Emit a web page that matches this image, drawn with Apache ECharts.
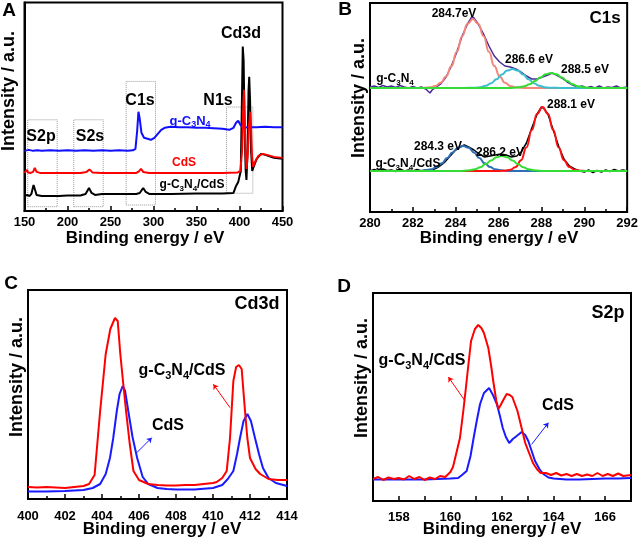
<!DOCTYPE html>
<html><head><meta charset="utf-8">
<script src="https://cdn.jsdelivr.net/npm/echarts@6/dist/echarts.min.js"></script>
<style>html,body{margin:0;padding:0;background:#fff}#c{width:641px;height:542px}</style>
</head><body><div id="c"></div>
<script>
// ---------- Panel A: survey ----------
const A_gcn = [[150,60],[155,61],[160,60],[165,60.5],[170,60],[180,60.5],[190,60],[200,60.5],[210,60],[220,60.5],[230,60],[240,60.5],[250,60],[260,60.5],[270,60],[276,60.5],[279,62],[281,80],[282.5,99],[284,92],[286,78],[289,73],[293,72],[297,71],[301,73],[305,77],[309,81],[313,83],[320,84],[330,83.5],[340,83.5],[350,83],[360,83],[370,82.5],[380,82],[388,81],[393,83],[396,88],[398.5,90],[401,86],[404,83],[410,83.5],[420,83.5],[430,84],[440,83.5],[450,83.5]];
const A_cds = [[150,38],[152,38.5],[153,41],[154,38.5],[157,38],[160,39],[162,43],[164,39],[168,38],[180,38],[200,38],[215,38],[222,39],[225.5,41.5],[229,38.5],[240,38],[260,38],[280,38],[283,39.5],[285.5,42],[288,39],[295,38],[320,38],[350,38],[380,38],[398,38.5],[401,40],[403,60],[404.3,100],[405.2,121],[406,90],[407,60],[408.2,42],[409.5,55],[411,85],[412.5,99],[413.5,80],[414.5,55],[415.8,44],[418,49],[422,55],[427,57],[432,56],[440,54],[450,53]];
const A_comp = [[150,15],[153,16],[156,15],[158,17],[160.5,26],[162,22],[164,16],[170,15],[190,15],[200,15.5],[215,15.5],[221,17],[225,23],[228,18],[232,16],[240,17],[260,17],[280,17],[284,18],[288,23],[291,19],[295,17],[320,17],[350,17.5],[380,17.5],[393,18],[396,25],[398.5,29],[400,28],[401.5,40],[402.8,110],[403.8,164],[404.8,150],[406,80],[407.2,40],[408.1,31],[409.3,60],[410.5,120],[411.3,134],[412.3,110],[413.5,60],[414.8,40],[416,43],[420,52],[425,57],[430,56],[440,53],[450,52]];
const A_boxes = [[153.8,4.3,188,91],[207.3,4.3,241.5,91],[268.2,6,302.3,129.3],[384.9,17.7,415.5,103.7]];

// ---------- Panel B: C1s ----------
const B_gcnData = [[280,125],[280.2,126],[280.4,124.5],[280.6,126.5],[280.8,125],[281,126],[281.2,124.5],[281.4,126.5],[281.6,125],[281.8,124],[282,125.5],[282.2,124],[282.4,125],[282.6,123],[282.8,119],[282.9,122],[283.1,125],[283.3,128],[283.55,135],[283.8,146],[284.05,160],[284.3,176],[284.55,188],[284.75,195],[284.85,194],[285.05,188],[285.3,178],[285.55,166],[285.8,156],[286.05,150],[286.3,146],[286.55,145],[286.8,143],[287.05,140],[287.3,136],[287.55,133],[287.8,133],[288.05,135],[288.3,137],[288.5,139],[288.7,137],[288.95,134],[289.2,130],[289.45,127],[289.7,125],[289.9,126],[290.1,124],[290.3,125.5],[290.5,124],[290.7,126],[290.9,124],[291.1,125],[291.3,124.5],[291.5,126],[291.7,124],[292,125]];
const B_gcnFit1 = [[280,124],[282.3,124],[282.8,124.7],[283.05,126],[283.3,129.2],[283.55,135.5],[283.8,145.9],[284.05,160.2],[284.3,175.8],[284.55,188.2],[284.8,193],[285.05,188.2],[285.3,175.8],[285.55,160.2],[285.8,145.9],[286.05,135.5],[286.3,129.2],[286.55,126],[286.8,124.7],[287.3,124],[292,124]];
const B_gcnFit2 = [[280,124],[284.4,124],[284.9,124.3],[285.15,124.8],[285.4,126.2],[285.65,128.7],[285.9,132.7],[286.15,137.4],[286.4,141.4],[286.65,143],[286.9,141.4],[287.15,137.4],[287.4,132.7],[287.65,128.7],[287.9,126.2],[288.15,124.8],[288.4,124.3],[288.9,124],[292,124]];
const B_gcnFit3 = [[280,124],[286.45,124],[286.95,124.7],[287.2,125.7],[287.45,127.7],[287.7,130.9],[287.95,134.6],[288.2,137.8],[288.45,139],[288.7,137.8],[288.95,134.6],[289.2,130.9],[289.45,127.7],[289.7,125.7],[289.95,124.7],[290.45,124],[292,124]];
const B_compData = [[280,41],[280.2,42.5],[280.4,41],[280.6,43],[280.8,41.5],[281,42],[281.2,40.5],[281.4,43],[281.6,41],[281.8,42],[282,41],[282.2,42.5],[282.4,41],[282.6,42],[282.8,41.5],[283,43],[283.2,45],[283.45,49],[283.7,55],[283.95,61],[284.2,65],[284.4,67],[284.6,65],[284.85,62],[285.1,58],[285.35,55],[285.6,56],[285.85,57],[286.1,58],[286.35,57],[286.6,55],[286.85,56],[287.05,60],[287.3,69],[287.55,84],[287.8,98],[288,105],[288.1,104],[288.3,98],[288.55,82],[288.8,66],[289.05,53],[289.3,46],[289.55,43],[289.8,41],[290,40],[290.2,42],[290.4,39.5],[290.6,41.5],[290.8,40],[291,42],[291.2,40.5],[291.4,42.5],[291.6,41],[291.8,42],[292,41]];
const B_compFit1 = [[280,41],[282.1,41],[282.35,41.2],[282.6,41.7],[282.85,42.75],[283.1,44.9],[283.35,48.7],[283.6,53.9],[283.85,59.6],[284.1,64.2],[284.35,66],[284.6,64.2],[284.85,59.6],[285.1,53.9],[285.35,48.7],[285.6,44.9],[285.85,42.75],[286.1,41.7],[286.35,41.2],[286.6,41],[292,41]];
const B_compFit2 = [[280,41],[284.15,41],[284.65,41.7],[284.9,42.7],[285.15,44.7],[285.4,47.9],[285.65,51.6],[285.9,54.8],[286.15,56],[286.4,54.8],[286.65,51.6],[286.9,47.9],[287.15,44.7],[287.4,42.7],[287.65,41.7],[288.15,41],[292,41]];
const B_compFit3 = [[280,41],[286.05,41],[286.3,41.3],[286.55,42.2],[286.8,45],[287.05,51.8],[287.3,64.6],[287.55,82],[287.8,98.3],[288.05,105],[288.3,98.3],[288.55,82],[288.8,64.6],[289.05,51.8],[289.3,45],[289.55,42.2],[289.8,41.3],[290.05,41],[292,41]];

// ---------- Panel C: Cd3d ----------
const C_comp = [[400,12],[400.5,11.5],[401,12],[401.5,11.5],[402,11],[402.5,12],[403,13],[403.3,15],[403.6,24],[403.9,88],[404.2,145],[404.45,170],[404.7,181],[404.85,178],[404.99,145],[405.15,115],[405.3,88],[405.5,55],[405.7,28],[406,19],[406.5,15],[407,14],[407.5,13.5],[408,13.5],[408.5,14],[409,14],[409.5,15],[410,16],[410.2,17],[410.5,21],[410.74,28],[410.92,61],[411.1,118],[411.25,132],[411.4,134],[411.55,130],[411.73,88],[411.85,62],[412,41],[412.3,30],[412.55,25],[413,20],[413.5,19],[414,19]];
const C_cds = [[400,7.5],[401,7.5],[402,8],[403,9],[403.5,11],[403.9,15],[404.2,25],[404.43,41],[404.6,60],[404.8,88],[404.95,105],[405.12,113],[405.25,108],[405.42,88],[405.65,62],[405.9,41],[406.2,22],[406.5,15],[407,11],[407.5,10],[408,9.5],[409,9.5],[410,11],[410.5,14],[410.8,20],[411.1,28],[411.3,45],[411.46,61],[411.65,78],[411.86,85],[412.05,78],[412.27,61],[412.5,44],[412.7,31],[413,21],[413.4,16],[414,13]];
const C_arrowComp = [[410.92,91.3],[410.02,114.7]];
const C_arrowCds = [[405.88,46.3],[406.69,61.3]];

// ---------- Panel D: S2p ----------
const D_comp = [[157,22],[157.2,24],[157.4,21],[157.6,23.5],[157.8,22],[158,23],[158.2,21.5],[158.4,25],[158.6,22],[158.8,24],[159,21],[159.2,23.5],[159.4,22],[159.6,25],[159.8,24],[160,29],[160.1,34],[160.25,50],[160.37,63],[160.5,90],[160.6,113],[160.7,137],[160.8,160],[160.95,172],[161.08,176],[161.2,173],[161.3,168],[161.47,153],[161.58,135],[161.66,120],[161.78,100],[161.86,92],[161.95,96],[162.05,101],[162.18,107],[162.3,106],[162.4,104],[162.5,97],[162.6,90],[162.76,73],[162.9,58],[163.02,50],[163.2,38],[163.35,32],[163.5,28],[163.7,28],[163.9,26],[164.1,28],[164.3,25.5],[164.5,27],[164.7,25],[164.9,27],[165.1,25],[165.3,26.5],[165.5,25],[165.7,28],[165.9,25],[166.1,27],[166.3,25],[166.5,27.5],[166.7,25],[167,26]];
const D_cds = [[157,21.5],[158,21.5],[159,21.5],[159.5,22],[160,22.5],[160.3,23],[160.45,26],[160.63,30],[160.78,45],[160.9,63],[161.02,80],[161.15,97],[161.3,108],[161.5,113],[161.65,106],[161.8,97],[161.92,85],[162.03,73],[162.15,64],[162.28,58],[162.42,62],[162.57,65],[162.76,69],[162.9,66],[163.02,60],[163.15,50],[163.28,40],[163.45,32],[163.6,27],[163.8,23.5],[164,22.5],[164.5,21.5],[165,21.5],[165.5,22],[166,22.5],[166.5,22.5],[167,23]];
const D_arrowComp = [[160.57,100],[159.92,124]];
const D_arrowCds = [[163.15,56.7],[163.8,78.3]];

// ---------- axis definitions ----------
const xRanges = [[150,450,50],[280,292,2],[400,414,2],[157,167,1]];
const yMax = [208,209,209,208];

const FONT = '"Liberation Sans", Arial, sans-serif';
const chart = echarts.init(document.getElementById('c'), null, {renderer:'canvas'});

const grids = [
  {left:24.5, top:2.5, width:258, height:208.5},
  {left:370, top:3, width:258, height:209},
  {left:28, top:290, width:259, height:209},
  {left:373, top:293, width:258, height:208}
].map(g => Object.assign(g, {show:true, borderColor:'#000', borderWidth:2, containLabel:false}));

const labelMargins = [5,5,11,10];
const xAxes = xRanges.map((r,i) => ({
  gridIndex:i, type:'value', min:r[0], max:r[1], interval:r[2],
  axisLine:{show:true, lineStyle:{color:'#000', width:2}},
  axisTick:{show:true, inside:true, length:5, lineStyle:{color:'#000', width:1.5}},
  minorTick:{show:i<3, splitNumber:2, length:3, lineStyle:{color:'#000', width:1.5}},
  splitLine:{show:false},
  axisLabel:{color:'#000', fontFamily:FONT, fontWeight:'bold', fontSize:13, margin:labelMargins[i],
    formatter: v => (i===3 && v%2!==0) ? '' : String(v)}
}));
const yAxes = yMax.map((m,i) => ({
  gridIndex:i, type:'value', min:0, max:m,
  axisLine:{show:true, lineStyle:{color:'#000', width:2}},
  axisTick:{show:false}, axisLabel:{show:false}, splitLine:{show:false}
}));

function line(idx, data, color, width, smooth){
  return {type:'line', xAxisIndex:idx, yAxisIndex:idx, data:data, showSymbol:false, symbol:'none',
    lineStyle:{color:color, width:width}, itemStyle:{color:color}, smooth:smooth||false,
    smoothMonotone:'x', animation:false, silent:true, z:3};
}
function arrow(idx, pts, color){
  return {type:'lines', coordinateSystem:'cartesian2d', xAxisIndex:idx, yAxisIndex:idx,
    symbol:['none','arrow'], symbolSize:5, animation:false, silent:true,
    lineStyle:{color:color, width:1, opacity:1}, data:[{coords:pts}], z:4};
}

const series = [];
// A
const sA = line(0, A_comp, '#000000', 2);
sA.markArea = {silent:true, itemStyle:{color:'rgba(0,0,0,0)', borderColor:'#9a9a9a', borderWidth:1, borderType:'dotted'},
  data: A_boxes.map(b => [{coord:[b[0],b[1]]},{coord:[b[2],b[3]]}])};
series.push(sA);
series.push(line(0, A_gcn, '#1010ff', 2));
series.push(line(0, A_cds, '#ff0000', 2));
// B
series.push(line(1, B_gcnData, '#4a2a98', 1.5));
series.push(line(1, B_gcnFit1, '#f4867a', 2, true));
series.push(line(1, B_gcnFit2, '#3bbfcf', 2, true));
series.push(line(1, B_gcnFit3, '#33dd33', 2, true));
series.push(line(1, B_compData, '#000000', 1.5));
series.push(line(1, B_compFit1, '#2f6fb5', 2, true));
series.push(line(1, B_compFit3, '#ff1010', 2, true));
series.push(line(1, B_compFit2, '#33dd33', 2, true));
// C
series.push(line(2, C_cds, '#1a1aff', 2));
series.push(line(2, C_comp, '#ff0000', 2));
series.push(arrow(2, C_arrowComp, '#ff0000'));
series.push(arrow(2, C_arrowCds, '#1a1aff'));
// D
series.push(line(3, D_cds, '#1a1aff', 2));
series.push(line(3, D_comp, '#ff0000', 2));
series.push(arrow(3, D_arrowComp, '#ff0000'));
series.push(arrow(3, D_arrowCds, '#1a1aff'));

const subRich = (size, color) => ({
  n:{fontFamily:FONT, fontWeight:'bold', fontSize:size, color:color, lineHeight:size+4},
  s:{fontFamily:FONT, fontWeight:'bold', fontSize:Math.round(size*0.68), color:color, verticalAlign:'bottom', lineHeight:Math.round(size*0.68)+1}
});
function txt(x, y, text, size, color, rot){
  const isRich = text.indexOf('{') >= 0;
  return {type:'text', x:x, y:y, rotation:rot||0, silent:true, z:10,
    style:{text:text, textAlign:'center', textVerticalAlign:'middle', fill:color||'#000',
      font:'bold '+size+'px '+FONT, rich: isRich ? subRich(size, color||'#000') : undefined}};
}
const GCN = '{n|g-C}{s|3}{n|N}{s|4}';
const GCNCDS = '{n|g-C}{s|3}{n|N}{s|4}{n|/CdS}';
const graphic = [
  txt(9,11,'A',19), txt(345,10,'B',19), txt(11,284,'C',19), txt(344,287,'D',19),
  txt(9,91,'Intensity / a.u.',18,'#000',Math.PI/2),
  txt(359,98,'Intensity / a.u.',18,'#000',Math.PI/2),
  txt(17,377,'Intensity / a.u.',18,'#000',Math.PI/2),
  txt(362,378,'Intensity / a.u.',18,'#000',Math.PI/2),
  txt(145,238,'Binding energy / eV',17), txt(499,238,'Binding energy / eV',17),
  txt(162,529,'Binding energy / eV',17), txt(502,529,'Binding energy / eV',17),
  // A annotations
  txt(41,137,'S2p',16), txt(90,137,'S2s',16), txt(140,101,'C1s',16), txt(218,101,'N1s',16), txt(241,34,'Cd3d',16),
  txt(190,121,GCN,13,'#1010ff'), txt(184,163,'CdS',12,'#ff0000'), txt(192,185,GCNCDS,12,'#000'),
  // B annotations
  txt(454,14,'284.7eV',12), txt(529,60,'286.6 eV',12), txt(585,70,'288.5 eV',12), txt(395,79,GCN,12),
  txt(605,18,'C1s',17), txt(571,105,'288.1 eV',12), txt(438,147,'284.3 eV',12), txt(500,153,'286.2 eV',12),
  txt(408,164,GCNCDS,12),
  // C annotations
  txt(257,304,'Cd3d',18), txt(182,371,GCNCDS,16), txt(168,426,'CdS',16),
  // D annotations
  txt(608,313,'S2p',18), txt(422,361,GCNCDS,16), txt(558,406,'CdS',16)
];

chart.setOption({
  backgroundColor:'#ffffff', animation:false,
  grid:grids, xAxis:xAxes, yAxis:yAxes, series:series, graphic:graphic
});
</script></body></html>
